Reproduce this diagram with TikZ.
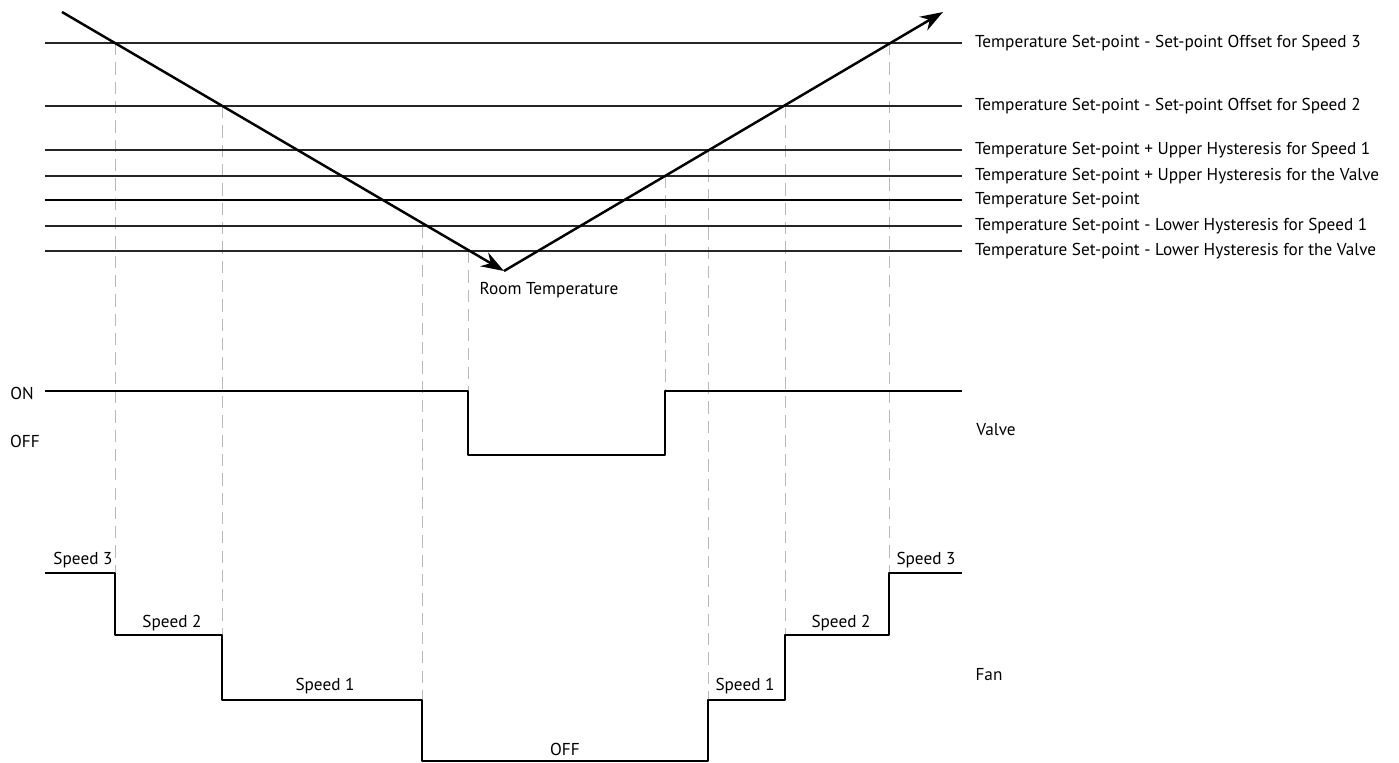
\documentclass[tikz,border=0pt]{standalone}
\usepackage{fontspec}
\setmainfont{PT Sans}
\usetikzlibrary{arrows.meta,positioning}
\tikzset{
  every picture/.style={line join=round, >=Stealth},
  level/.style={line width=0.7pt, black!85},
  setpt/.style={line width=1.2pt},
  trace/.style={line width=1.4pt},
  guide/.style={gray!55, line width=0.55pt, dash pattern=on 7pt off 4pt},
  lbl/.style={font=\fontsize{9.8}{11}\selectfont, inner sep=1pt},
  tip/.style={-{Stealth[length=13pt,width=9pt]}},
}
\begin{document}
\begin{tikzpicture}[x=0.02cm,y=-0.02cm]
\useasboundingbox (0,0) rectangle (1399,763);
% guides
\foreach \x/\a/\b in {115/43/573,222/106/635,422/226/700,468/251/391,
  665/176/391,708/150/700,785/106/635,889/43/573}
  \draw[guide] (\x,\a) -- (\x,\b);
% levels
\node[lbl,anchor=west] (sp3) at (973,43) {Temperature Set-point - Set-point Offset for Speed 3};
\node[lbl,anchor=west] (sp2) at (973,106) {Temperature Set-point - Set-point Offset for Speed 2};
\node[lbl,anchor=west] (uh1) at (973,150) {Temperature Set-point + Upper Hysteresis for Speed 1};
\node[lbl,anchor=west] (uhv) at (973,176) {Temperature Set-point + Upper Hysteresis for the Valve};
\node[lbl,anchor=west] (sp) at (973,200) {Temperature Set-point};
\node[lbl,anchor=west] (lh1) at (973,226) {Temperature Set-point - Lower Hysteresis for Speed 1};
\node[lbl,anchor=west] (lhv) at (973,251) {Temperature Set-point - Lower Hysteresis for the Valve};
\foreach \n/\y in {sp3/43,sp2/106,uh1/150,uhv/176,lh1/226,lhv/251}
  \draw[level] (45,\y) -- (962,\y);
\draw[setpt] (45,200) -- (962,200);
% room temperature
\coordinate (t0) at (62,12);
\coordinate (rt) at (504,271);
\coordinate (t1) at (943,12);
\draw[trace,tip] (t0) -- (rt);
\draw[trace,tip] (rt) -- (t1);
\node[lbl] (rtl) at (549,290) {Room Temperature};
% valve
\node[lbl] (on) at (22,393) {ON};
\node[lbl] (off) at (25,441) {OFF};
\node[lbl] (valve) at (996,430) {Valve};
\draw[trace] (45,391) -- (468,391) -- (468,455) -- (665,455) -- (665,391) -- (962,391);
% fan
\draw[trace] (45,573) -- (115,573) -- (115,635) -- (222,635) -- (222,700)
  -- (422,700) -- (422,761) -- (708,761) -- (708,700) -- (785,700)
  -- (785,635) -- (889,635) -- (889,573) -- (962,573);
\node[lbl] (f3a) at (83,560) {Speed 3};
\node[lbl] (f2a) at (172,623) {Speed 2};
\node[lbl] (f1a) at (325,686) {Speed 1};
\node[lbl] (foff) at (565,749) {OFF};
\node[lbl] (f1b) at (745,686) {Speed 1};
\node[lbl] (f2b) at (841,623) {Speed 2};
\node[lbl] (f3b) at (926,560) {Speed 3};
\node[lbl] (fan) at (989,675) {Fan};
\end{tikzpicture}
\end{document}
